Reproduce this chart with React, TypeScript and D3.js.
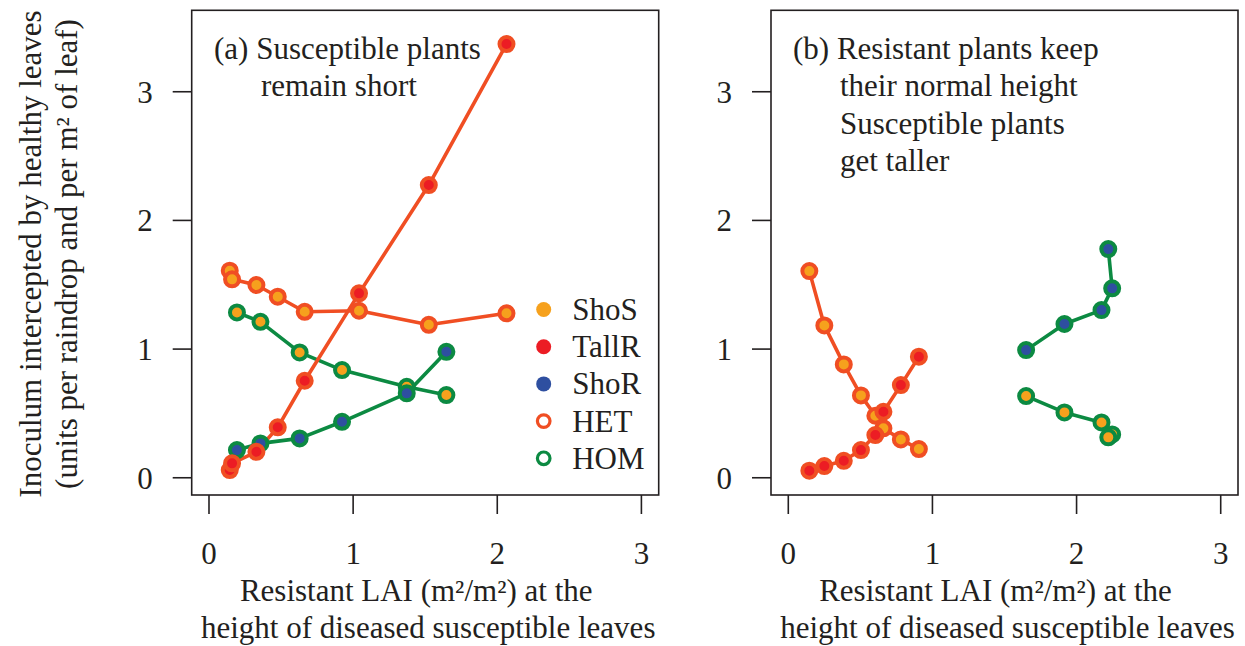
import React from 'react';
import * as d3 from 'd3';

// ---------- data ----------
const xTicks = [0, 1, 2, 3];
const yTicks = [0, 1, 2, 3];
const legendLabels = ['ShoS', 'TallR', 'ShoR', 'HET', 'HOM'];

// Panel (a): susceptible plants remain short
const aHetX = [0.144, 0.160, 0.329, 0.477, 0.664, 1.041, 1.525, 2.064];
const aHetShoS = [1.609, 1.542, 1.498, 1.407, 1.290, 1.298, 1.189, 1.278];
const aHetTallR = [0.060, 0.112, 0.202, 0.392, 0.754, 1.433, 2.275, 3.371];
const aHomX = [0.194, 0.357, 0.629, 0.923, 1.372, 1.647];
const aHomShoS = [1.285, 1.212, 0.974, 0.837, 0.707, 0.643];
const aHomShoR = [0.215, 0.267, 0.306, 0.435, 0.656, 0.979];

// Panel (b): resistant plants keep their normal height
const bHetX = [0.146, 0.250, 0.385, 0.504, 0.604, 0.660, 0.781, 0.906];
const bHetShoS = [1.606, 1.184, 0.881, 0.640, 0.482, 0.384, 0.298, 0.223];
const bHetTallR = [0.055, 0.091, 0.132, 0.215, 0.332, 0.513, 0.720, 0.941];
const bHomX = [1.650, 1.916, 2.173, 2.247, 2.220];
const bHomShoS = [0.635, 0.508, 0.430, 0.337, 0.314];
const bHomShoR = [0.992, 1.195, 1.303, 1.472, 1.777];

const annotA = ['(a) Susceptible plants', 'remain short'];
const annotB = ['(b) Resistant plants keep', 'their normal height', 'Susceptible plants', 'get taller'];
const xTitle = ['Resistant LAI (m²/m²) at the', 'height of diseased susceptible leaves'];
const yTitle = ['Inoculum intercepted by healthy leaves', '(units per raindrop and per m² of leaf)'];

// ---------- styles ----------
const C = {
  ShoS: '#F6A11D',
  TallR: '#EC1C24',
  ShoR: '#2E4FA0',
  HET: '#F04E23',
  HOM: '#0C8A42',
  ink: '#231F20',
};
const FONT = '"Liberation Serif", "Times New Roman", serif';
const FS = 31;

const xDomain: [number, number] = [-0.12, 3.12];
const yDomain: [number, number] = [-0.134, 3.633];
const boxTop = 10.3;
const boxBottom = 495;
const boxW = 467;

type Series = { xs: number[]; ys: number[]; fill: string; ring: string };

function Panel({ left, series, annot, annotX0, annotX1, legend }: {
  left: number; series: Series[]; annot: string[]; annotX0: number; annotX1: number; legend: boolean;
}) {
  const x = d3.scaleLinear().domain(xDomain).range([left, left + boxW]);
  const y = d3.scaleLinear().domain(yDomain).range([boxBottom, boxTop]);
  const line = d3.line<[number, number]>().x(d => x(d[0])).y(d => y(d[1]));
  const cx = left + boxW / 2;
  return (
    <g>
      <rect x={left} y={boxTop} width={boxW} height={boxBottom - boxTop} fill="none" stroke={C.ink} strokeWidth={1.6} />
      {xTicks.map(t => (
        <g key={'x' + t}>
          <line x1={x(t)} x2={x(t)} y1={boxBottom} y2={boxBottom + 19} stroke={C.ink} strokeWidth={1.6} />
          <text x={x(t)} y={boxBottom + 69} textAnchor="middle" fontSize={FS} fill={C.ink}>{t}</text>
        </g>
      ))}
      {yTicks.map(t => (
        <g key={'y' + t}>
          <line x1={left - 19} x2={left} y1={y(t)} y2={y(t)} stroke={C.ink} strokeWidth={1.6} />
          <text x={left - 39} y={y(t) + 11} textAnchor="end" fontSize={FS} fill={C.ink}>{t}</text>
        </g>
      ))}
      <text x={cx - 9} y={601} textAnchor="middle" fontSize={FS} fill={C.ink}>{xTitle[0]}</text>
      <text x={cx + 3} y={638} textAnchor="middle" fontSize={FS} fill={C.ink}>{xTitle[1]}</text>
      {annot.map((s, i) => (
        <text key={s} x={i === 0 ? annotX0 : annotX1} y={59 + i * 37.4} fontSize={FS} fill={C.ink}>{s}</text>
      ))}
      {series.map((s, i) => (
        <path key={'l' + i} d={line(s.xs.map((v, j) => [v, s.ys[j]]) as [number, number][]) || ''}
          fill="none" stroke={s.ring} strokeWidth={3.6} strokeLinejoin="round" />
      ))}
      {series.map((s, i) => (
        <g key={'p' + i}>
          {s.xs.map((v, j) => (
            <circle key={j} cx={x(v)} cy={y(s.ys[j])} r={7} fill={s.fill} stroke={s.ring} strokeWidth={4} />
          ))}
        </g>
      ))}
      {legend && legendLabels.map((lab, i) => {
        const ly = 309.5 + i * 37.2;
        const lx = left + 352;
        const filled = i < 3;
        const col = [C.ShoS, C.TallR, C.ShoR, C.HET, C.HOM][i];
        return (
          <g key={lab}>
            {filled
              ? <circle cx={lx} cy={ly} r={7.5} fill={col} />
              : <circle cx={lx} cy={ly} r={6.3} fill="none" stroke={col} strokeWidth={3.2} />}
            <text x={lx + 28.5} y={ly + 10.5} fontSize={FS} fill={C.ink}>{lab}</text>
          </g>
        );
      })}
    </g>
  );
}

export default function App() {
  const seriesA: Series[] = [
    { xs: aHomX, ys: aHomShoS, fill: C.ShoS, ring: C.HOM },
    { xs: aHomX, ys: aHomShoR, fill: C.ShoR, ring: C.HOM },
    { xs: aHetX, ys: aHetShoS, fill: C.ShoS, ring: C.HET },
    { xs: aHetX, ys: aHetTallR, fill: C.TallR, ring: C.HET },
  ];
  const seriesB: Series[] = [
    { xs: bHomX, ys: bHomShoS, fill: C.ShoS, ring: C.HOM },
    { xs: bHomX, ys: bHomShoR, fill: C.ShoR, ring: C.HOM },
    { xs: bHetX, ys: bHetShoS, fill: C.ShoS, ring: C.HET },
    { xs: bHetX, ys: bHetTallR, fill: C.TallR, ring: C.HET },
  ];
  const yMid = 254;
  return (
    <svg width={1245} height={646} style={{ position: 'absolute', left: 0, top: 0, background: '#fff' }}
      fontFamily={FONT}>
      <rect x={0} y={0} width={1245} height={646} fill="#fff" />
      <text transform={`translate(41,${yMid}) rotate(-90)`} textAnchor="middle" fontSize={FS} fill={C.ink}>{yTitle[0]}</text>
      <text transform={`translate(77,${yMid}) rotate(-90)`} textAnchor="middle" fontSize={FS} fill={C.ink}>{yTitle[1]}</text>
      <Panel left={191.7} series={seriesA} annot={annotA} annotX0={214} annotX1={261} legend={true} />
      <Panel left={771} series={seriesB} annot={annotB} annotX0={793} annotX1={840} legend={false} />
    </svg>
  );
}
